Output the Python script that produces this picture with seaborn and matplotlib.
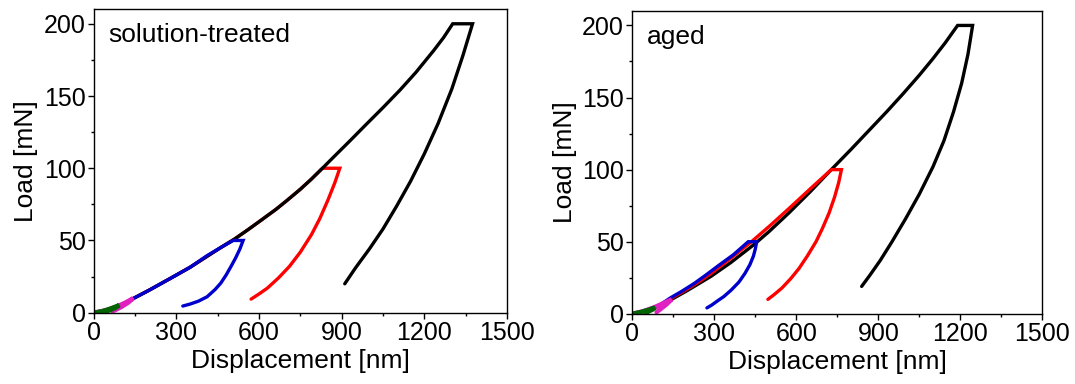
import pandas as pd
import seaborn as sns
import matplotlib
matplotlib.use("Agg")
import matplotlib.pyplot as plt
from matplotlib.ticker import MultipleLocator

# solution-treated panel, displacement [nm] / load [mN]
st_black_disp = [0, 50, 100, 140, 200, 285, 350, 411, 460, 511, 560, 600, 661, 700, 750, 790,
                 830, 864, 930, 987, 1050, 1111, 1170, 1234, 1270, 1303,
                 1375, 1340, 1300, 1250, 1200, 1150, 1100, 1050, 1000, 950, 911]
st_black_load = [0, 2, 5.5, 9.5, 15.5, 24.5, 31.5, 39, 45, 51, 57.5, 63, 71.5, 77.5, 85.5, 92.5,
                 100, 106.5, 119, 130, 142, 154, 166.5, 181.5, 190.5, 200,
                 200, 178, 155, 131, 110, 91, 74, 58, 44, 31, 20]
st_red_disp = [0, 50, 100, 140, 200, 285, 350, 411, 460, 511, 560, 600, 661, 700, 750, 790,
               830, 893, 875, 850, 820, 790, 750, 710, 670, 630, 600, 571]
st_red_load = [0, 2, 5.5, 9.5, 15.5, 24.5, 31.5, 39, 45, 51, 57.5, 63, 71.5, 77.5, 85.5, 92.5,
               100, 100, 90, 78, 65, 54, 42, 32, 24, 17, 13, 9.4]
st_blue_disp = [0, 50, 100, 140, 200, 285, 350, 411, 460, 506, 542, 530, 515, 498, 480, 461,
                440, 411, 380, 350, 323]
st_blue_load = [0, 2, 5.5, 9.5, 15.5, 24.5, 31.5, 39.5, 45, 50, 50, 44, 38, 32, 26, 20.5,
                16, 11, 8, 6, 4.6]
st_magenta_disp = [0, 40, 80, 115, 143, 125, 100, 80, 68]
st_magenta_load = [0, 1.5, 4, 7, 10, 7, 4, 2, 1]
st_green_disp = [0, 30, 60, 92, 80, 60, 45]
st_green_load = [0, 1, 2.8, 5.2, 3.5, 1.8, 0.8]

# aged panel
ag_black_disp = [0, 50, 100, 139, 200, 288, 360, 445, 500, 573, 650, 728, 800, 870, 930, 990,
                 1050, 1100, 1145, 1190,
                 1245, 1228, 1205, 1175, 1140, 1100, 1050, 1000, 950, 907, 870, 839]
ag_black_load = [0, 2, 5.5, 9.5, 16, 26, 35.5, 48, 57, 70, 84.5, 100, 114, 128, 140, 152.5,
                 165.5, 177, 188, 200,
                 200, 180, 160, 140, 120, 102, 83, 66, 50, 37, 27, 19]
ag_red_disp = [0, 50, 100, 145, 200, 250, 288, 360, 436, 500, 573, 650, 728,
               765, 755, 740, 720, 695, 672, 640, 610, 580, 548, 520, 496]
ag_red_load = [0, 2.2, 6, 11, 17, 23, 28, 38.5, 50, 60.5, 73, 86.5, 100,
               100, 91, 81, 70, 59, 50, 40, 31.5, 24.5, 18, 13.5, 10]
ag_blue_disp = [0, 50, 100, 139, 180, 226, 270, 312, 370, 424,
                455, 450, 443, 430, 412, 390, 362, 335, 312, 290, 273]
ag_blue_load = [0, 2.2, 6, 11, 15.5, 21, 27, 33, 41, 50,
                50, 45, 40, 34, 28, 22, 16.5, 12, 9, 6, 4.1]
ag_magenta_disp = [0, 40, 80, 115, 144, 125, 105, 89]
ag_magenta_load = [0, 1.8, 4.5, 7.5, 10, 6.5, 3.5, 1.2]
ag_green_disp = [0, 30, 60, 83, 75, 62, 50]
ag_green_load = [0, 1.2, 2.8, 4.4, 3, 1.8, 0.6]

panel_titles = ["solution-treated", "aged"]

sns.set_theme(style="ticks")
plt.rcParams['font.family'] = ['Liberation Sans', 'DejaVu Sans']
plt.rcParams['text.color'] = 'black'
plt.rcParams['axes.labelcolor'] = 'black'
plt.rcParams['xtick.color'] = 'black'
plt.rcParams['ytick.color'] = 'black'


def draw_panel(ax, curves, title):
    for disp, load, color, lw in curves:
        df = pd.DataFrame({"disp": disp, "load": load})
        sns.lineplot(data=df, x="disp", y="load", sort=False, estimator=None,
                     color=color, lw=lw, ax=ax, solid_joinstyle="miter")
    ax.set_xlim(0, 1500)
    ax.set_ylim(0, 210)
    ax.xaxis.set_major_locator(MultipleLocator(300))
    ax.xaxis.set_minor_locator(MultipleLocator(150))
    ax.yaxis.set_major_locator(MultipleLocator(50))
    ax.yaxis.set_minor_locator(MultipleLocator(25))
    ax.tick_params(which="major", direction="out", length=4, width=1, labelsize=18,
                   colors="black", pad=2)
    ax.tick_params(which="minor", direction="out", length=2.5, width=1)
    for sp in ax.spines.values():
        sp.set_visible(True)
        sp.set_color("black")
        sp.set_linewidth(1)
    ax.set_xlabel("Displacement [nm]", fontsize=19, labelpad=3)
    ax.set_ylabel("Load [mN]", fontsize=19, labelpad=4)
    ax.text(0.035, 0.915, title, transform=ax.transAxes, fontsize=19, va="center", ha="left")


fig = plt.figure(figsize=(10.75, 3.84), dpi=100)
ax1 = fig.add_axes([0.0873, 0.1857, 0.3843, 0.790])
ax2 = fig.add_axes([0.5882, 0.1828, 0.3814, 0.7885])

draw_panel(ax1, [
    (st_red_disp, st_red_load, "#ff0000", 2.4),
    (st_black_disp, st_black_load, "black", 2.4),
    (st_blue_disp, st_blue_load, "#0000cc", 2.4),
    (st_magenta_disp, st_magenta_load, "#e020c0", 3.2),
    (st_green_disp, st_green_load, "#006400", 3.2),
], panel_titles[0])

draw_panel(ax2, [
    (ag_black_disp, ag_black_load, "black", 2.4),
    (ag_red_disp, ag_red_load, "#ff0000", 2.4),
    (ag_blue_disp, ag_blue_load, "#0000cc", 2.4),
    (ag_magenta_disp, ag_magenta_load, "#e020c0", 3.2),
    (ag_green_disp, ag_green_load, "#006400", 3.2),
], panel_titles[1])

fig.savefig("out.png", dpi=100)
